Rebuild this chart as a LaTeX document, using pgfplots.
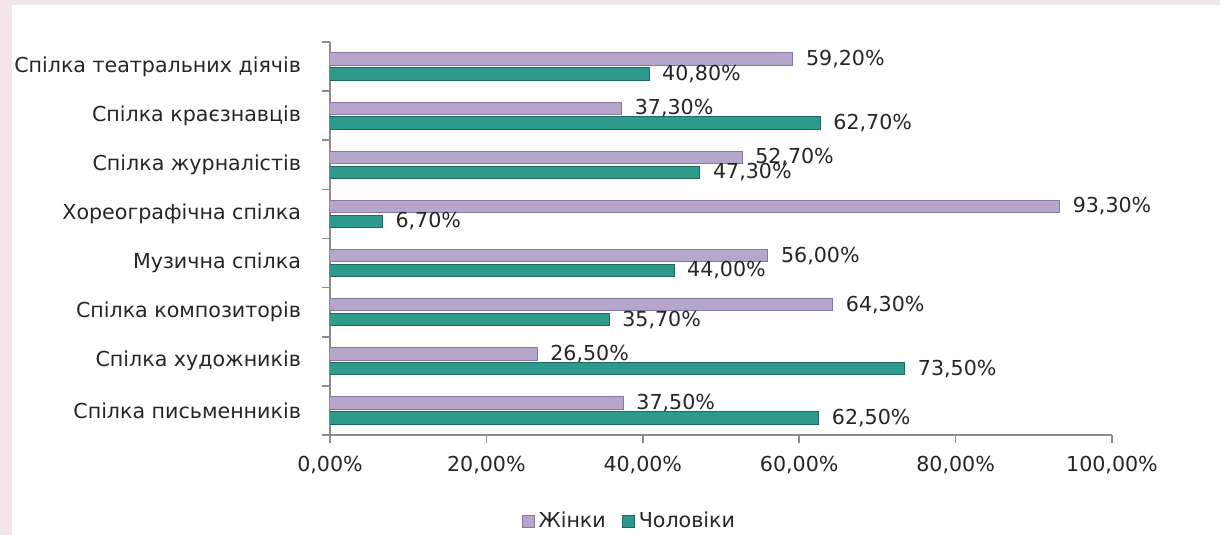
\documentclass[border=0pt]{standalone}
\usepackage{fontspec}
\setmainfont{DejaVu Sans}
\usepackage{pgfplots}
\pgfplotsset{compat=1.18}

\definecolor{pinkbg}{HTML}{F3E5EC}
\definecolor{lila}{HTML}{B7A6CC}
\definecolor{lilaD}{HTML}{8A76A6}
\definecolor{teal1}{HTML}{2E9A8C}
\definecolor{tealD}{HTML}{1E6A62}
\definecolor{axgray}{HTML}{8C8C8C}
\definecolor{txt}{HTML}{262626}

\begin{document}
\begin{tikzpicture}
% page: 1220x535 px, 1 px = 0.5pt
\path[use as bounding box, fill=pinkbg] (-165pt,-50pt) rectangle (445pt,217.5pt);
\fill[white] (-159pt,-50pt) rectangle (445pt,215pt);
\begin{axis}[
    scale only axis,
    width=391pt, height=196.5pt,
    xbar, bar width=6.2pt,
    xmin=0, xmax=100,
    ymin=-0.5, ymax=7.5,
    axis x line*=bottom, axis y line*=left,
    axis line style={draw=axgray, line width=0.9pt},
    tick align=outside,
    xtick={0,20,...,100},
    xticklabel={\pgfmathprintnumber[use comma,fixed,fixed zerofill,precision=2]{\tick}\%},
    x tick label style={font=\fontsize{10.3}{12}\selectfont, text=txt, yshift=-3pt},
    xtick style={draw=axgray, line width=0.8pt},
    major tick length=4pt,
    ytick={0,...,7},
    yticklabels={Спілка письменників, Спілка художників, Спілка композиторів, Музична спілка, Хореографічна спілка, Спілка журналістів, Спілка краєзнавців, Спілка театральних діячів},
    y tick label style={font=\fontsize{10.3}{12}\selectfont, text=txt, xshift=-7pt},
    major y tick style={draw=none},
    minor ytick={-0.5,0.5,...,7.5},
    minor y tick style={draw=axgray, line width=0.8pt},
    minor tick length=4pt,
    /pgf/number format/assume math mode=true,
    nodes near coords={\pgfmathprintnumber[use comma,fixed,fixed zerofill,precision=2]{\pgfplotspointmeta}\%},
    every node near coord/.append style={font=\fontsize{10.3}{12}\selectfont, text=txt, anchor=west, xshift=3pt},
    legend style={at={(0.384,-0.219)}, anchor=center, draw=none, fill=none,
        legend columns=2, font=\fontsize{10.3}{12}\selectfont, text=txt,
        /tikz/every even column/.append style={column sep=6pt}},
    legend image code/.code={\fill[#1] (0pt,-3pt) rectangle (6pt,3pt);},
]
\addplot[bar shift=3.7pt, fill=lila, draw=lilaD, line width=0.5pt] coordinates {
    (37.5,0) (26.5,1) (64.3,2) (56.0,3) (93.3,4) (52.7,5) (37.3,6) (59.2,7)
};
\addplot[bar shift=-3.7pt, fill=teal1, draw=tealD, line width=0.5pt] coordinates {
    (62.5,0) (73.5,1) (35.7,2) (44.0,3) (6.7,4) (47.3,5) (62.7,6) (40.8,7)
};
\legend{Жінки, Чоловіки}
\end{axis}
\end{tikzpicture}
\end{document}
